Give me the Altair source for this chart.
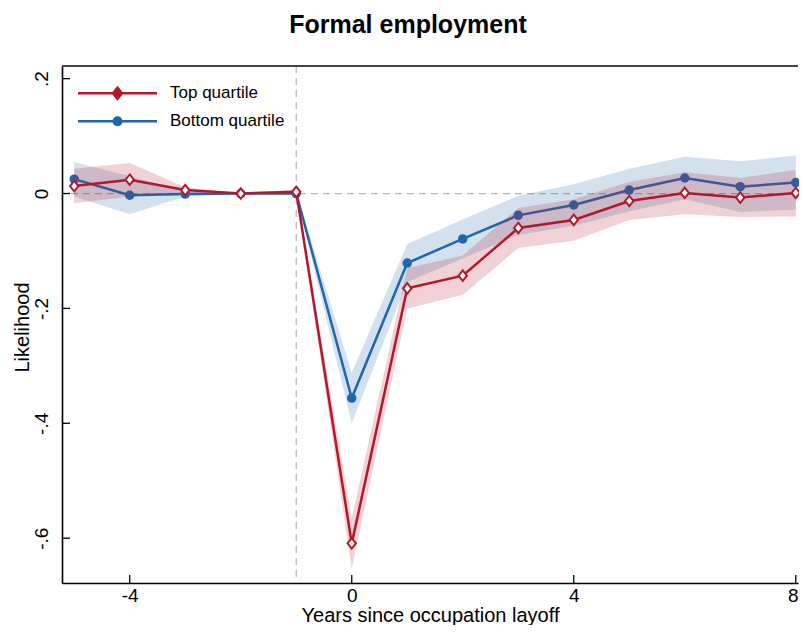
import pandas as pd
import altair as alt

# values
years = list(range(-5, 9))
top_est = [0.013, 0.024, 0.006, 0.0, 0.003, -0.609, -0.165, -0.143, -0.060, -0.046, -0.013, 0.001, -0.007, 0.001]
top_lo = [-0.017, -0.005, 0.001, 0.0, -0.001, -0.653, -0.200, -0.176, -0.095, -0.082, -0.046, -0.036, -0.041, -0.040]
top_hi = [0.043, 0.053, 0.011, 0.0, 0.007, -0.565, -0.130, -0.108, -0.025, -0.010, 0.020, 0.037, 0.027, 0.041]
bot_est = [0.025, -0.003, -0.001, 0.0, 0.0, -0.356, -0.121, -0.079, -0.038, -0.020, 0.006, 0.027, 0.012, 0.019]
bot_lo = [-0.005, -0.036, -0.005, 0.0, -0.003, -0.400, -0.154, -0.113, -0.072, -0.056, -0.031, -0.010, -0.032, -0.028]
bot_hi = [0.055, 0.030, 0.003, 0.0, 0.003, -0.312, -0.088, -0.045, -0.004, 0.016, 0.043, 0.064, 0.056, 0.066]
series_names = ["Top quartile", "Bottom quartile"]
x_ticks = [-4, 0, 4, 8]
y_ticks = [-0.6, -0.4, -0.2, 0.0, 0.2]

RED = "#B2182B"
BLUE = "#2166AC"
W, H = 736, 517
FONT = "Liberation Sans"
X_DOM = [-5.22, 8.04]
Y_DOM = [-0.678, 0.222]
TICK_PX = 8

df = pd.concat([
    pd.DataFrame({"year": years, "est": top_est, "lo": top_lo, "hi": top_hi, "series": series_names[0]}),
    pd.DataFrame({"year": years, "est": bot_est, "lo": bot_lo, "hi": bot_hi, "series": series_names[1]}),
])

xscale = alt.Scale(domain=X_DOM, nice=False, zero=False)
yscale = alt.Scale(domain=Y_DOM, nice=False, zero=False)

x_axis = alt.Axis(
    values=x_ticks, ticks=False, grid=False, labelFlush=False,
    labelExpr="datum.value < 0 ? '-' + abs(datum.value) : '' + datum.value",
    labelOffset={"condition": {"test": "datum.value == 8", "value": -3}, "value": 0},
    labelFontSize=19, labelPadding=3, labelColor="black",
    domainColor="black", domainWidth=1.6,
    titleFontSize=20, titleFontWeight="normal", titleColor="black",
    titleBaseline="alphabetic", titleY=38,
)
y_axis = alt.Axis(
    values=y_ticks, ticks=False, grid=False, labelFlush=False,
    labelExpr="datum.value == 0 ? '0' : (datum.value < 0 ? '-' : '') + replace(format(abs(datum.value), '.1f'), '0.', '.')",
    labelAngle=270, labelAlign="center", labelBaseline="bottom",
    labelFontSize=19, labelPadding=11, labelColor="black",
    domainColor="black", domainWidth=1.6,
    titleFontSize=20, titleFontWeight="normal", titleColor="black",
    titleAngle=270, titleBaseline="alphabetic", titleAlign="center",
    titleX=-34, titleY=261,
)
XT = "Years since occupation layoff"
YT = "Likelihood"


def X(field):
    return alt.X(field, scale=xscale, axis=x_axis, title=XT)


def Y(field):
    return alt.Y(field, scale=yscale, axis=y_axis, title=YT)


base = alt.Chart(df)

ref_h = alt.Chart(pd.DataFrame({"v": [0.0]})).mark_rule(
    color="#b4b4b4", strokeDash=[7, 5], strokeWidth=1.2
).encode(y=Y("v:Q"))
ref_v = alt.Chart(pd.DataFrame({"v": [-1]})).mark_rule(
    color="#b4b4b4", strokeDash=[7, 5], strokeWidth=1.2
).encode(x=X("v:Q"))


def series_layers(name, color, point):
    d = base.transform_filter(alt.datum.series == name)
    band = d.mark_area(color=color, opacity=0.2).encode(x=X("year:Q"), y=Y("lo:Q"), y2="hi:Q")
    line = d.mark_line(color=color, strokeWidth=2.5).encode(x=X("year:Q"), y=Y("est:Q"))
    pts = d.mark_point(**point).encode(x=X("year:Q"), y=Y("est:Q"))
    return band, line, pts


b_band, b_line, b_pts = series_layers(
    "Bottom quartile", BLUE,
    dict(shape="circle", filled=True, color=BLUE, size=90, opacity=1),
)
t_band, t_line, t_pts = series_layers(
    "Top quartile", RED,
    dict(shape="M0,-1L0.8,0L0,1L-0.8,0Z", filled=True, fill="white", stroke=RED,
         strokeWidth=2, size=110, opacity=1),
)

# inward ticks (Stata style) and the top frame line
y_len = TICK_PX * (Y_DOM[1] - Y_DOM[0]) / H
x_len = TICK_PX * (X_DOM[1] - X_DOM[0]) / W
xt = alt.Chart(pd.DataFrame({"t": x_ticks, "a": Y_DOM[0], "b": Y_DOM[0] + y_len})).mark_rule(
    color="black", strokeWidth=1.3
).encode(x=X("t:Q"), y=Y("a:Q"), y2="b:Q")
yt = alt.Chart(pd.DataFrame({"t": y_ticks, "a": X_DOM[0], "b": X_DOM[0] + x_len})).mark_rule(
    color="black", strokeWidth=1.3
).encode(y=Y("t:Q"), x=X("a:Q"), x2="b:Q")
top_border = alt.Chart(pd.DataFrame({"top": [Y_DOM[1]]})).mark_rule(
    color="#444444", strokeWidth=2
).encode(y=Y("top:Q"))


# legend: a line with its marker, drawn as one custom symbol path
# (marker built from nested outlines so the stroke alone makes it look solid)
def circle_path(r):
    k = round(0.5523 * r, 3)
    return (f"M{r},0C{r},{k},{k},{r},0,{r}C{-k},{r},{-r},{k},{-r},0"
            f"C{-r},{-k},{-k},{-r},0,{-r}C{k},{-r},{r},{-k},{r},0Z")


def diamond_path(w, h):
    return f"M0,{-h}L{w},0L0,{h}L{-w},0Z"


LINE = "M-3.95,0L3.95,0"
red_sym = LINE + "".join(diamond_path(round(0.45 * s, 3), round(0.55 * s, 3)) for s in (1, 0.7, 0.4, 0.1))
blue_sym = LINE + "".join(circle_path(r) for r in (0.38, 0.27, 0.16, 0.05))
leg = alt.Legend(
    title=None, orient="none", legendX=44, legendY=15.8, padding=0,
    symbolSize=400, symbolStrokeWidth=2.5, symbolOffset=0,
    labelFontSize=17, labelOffset=41, labelColor="black", rowPadding=6,
)
legend_layer = base.mark_point(opacity=0).encode(
    x=X("year:Q"),
    y=Y("est:Q"),
    stroke=alt.Stroke("series:N", scale=alt.Scale(domain=series_names, range=[RED, BLUE]), legend=leg),
    shape=alt.Shape("series:N", scale=alt.Scale(domain=series_names, range=[red_sym, blue_sym]), legend=leg),
)

chart = alt.layer(
    ref_h, ref_v,
    b_band, b_line, b_pts,
    t_band, t_line, t_pts,
    xt, yt, top_border, legend_layer,
).properties(
    width=W, height=H,
    autosize=alt.AutoSizeParams(type="none"),
    padding={"left": 54, "top": 58, "right": 1, "bottom": 42},
    title=alt.TitleParams(
        "Formal employment", font=FONT, fontSize=25, fontWeight="bold",
        anchor="middle", dx=-22, offset=7, baseline="alphabetic", color="black",
    ),
).configure(font=FONT).configure_view(stroke=None)

chart.save("out.html", embed_options={"renderer": "svg", "actions": False})
